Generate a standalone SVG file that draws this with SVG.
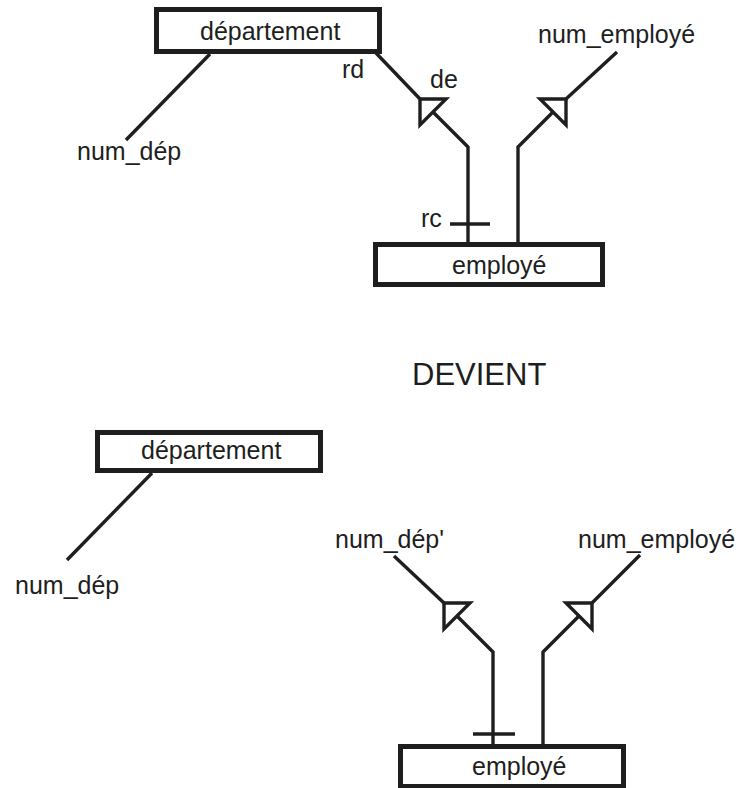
<svg xmlns="http://www.w3.org/2000/svg" width="741" height="788" viewBox="0 0 741 788">
  <style>
    text { font-family: "Liberation Sans", Arial, sans-serif; font-size: 25px; fill: #1e1e1e; }
    .entity { fill: #ffffff; stroke: #1e1e1e; stroke-width: 5; }
    .link { fill: none; stroke: #1e1e1e; stroke-width: 3.4; stroke-linejoin: miter; }
    .head { fill: #ffffff; stroke: #1e1e1e; stroke-width: 3.4; stroke-linejoin: miter; }
    .title { font-size: 31px; }
  </style>
  <rect width="741" height="788" fill="#ffffff"/>

  <!-- upper schema: connectors -->
  <g id="connectors-before">
    <path class="link" d="M210,54 L126,140"/>
    <path class="link" d="M376,53 L420,99"/>
    <path class="link" d="M433,112 L468,147 L468,242"/>
    <path class="link" d="M450,224 L490,224"/>
    <path class="link" d="M553,112 L518,147 L518,242"/>
    <path class="link" d="M566,99 L617,52"/>
    <polygon class="head" points="420,99 446,99 420,125"/>
    <polygon class="head" points="540,99 566,99 566,125"/>
    <text x="342" y="78">rd</text>
    <text x="430" y="88">de</text>
    <text x="421" y="227">rc</text>
  </g>

  <g id="departement-1">
    <rect class="entity" x="156.5" y="9.5" width="223" height="42"/>
    <text x="200" y="40">département</text>
  </g>
  <g id="num-dep-1">
    <text x="77" y="160">num_dép</text>
  </g>
  <g id="num-employe-1">
    <text x="538" y="43">num_employé</text>
  </g>
  <g id="employe-1">
    <rect class="entity" x="375.5" y="244.5" width="227" height="40"/>
    <text x="452" y="274">employé</text>
  </g>

  <g id="devient">
    <text class="title" x="412" y="385">DEVIENT</text>
  </g>

  <!-- lower schema: connectors -->
  <g id="connectors-after">
    <path class="link" d="M152,473 L67,560"/>
    <path class="link" d="M394,556 L444,603"/>
    <path class="link" d="M457,616 L493,652 L493,744"/>
    <path class="link" d="M473,734 L515,734"/>
    <path class="link" d="M579,616 L543,652 L543,744"/>
    <path class="link" d="M592,603 L640,555"/>
    <polygon class="head" points="444,603 470,603 444,629"/>
    <polygon class="head" points="566,603 592,603 592,629"/>
  </g>

  <g id="departement-2">
    <rect class="entity" x="97.5" y="432.5" width="223" height="38"/>
    <text x="141" y="459">département</text>
  </g>
  <g id="num-dep-2">
    <text x="15" y="594">num_dép</text>
  </g>
  <g id="num-dep-prime">
    <text x="335" y="548">num_dép'</text>
  </g>
  <g id="num-employe-2">
    <text x="578" y="548">num_employé</text>
  </g>
  <g id="employe-2">
    <rect class="entity" x="400.5" y="746.5" width="223" height="40"/>
    <text x="472" y="775">employé</text>
  </g>
</svg>
